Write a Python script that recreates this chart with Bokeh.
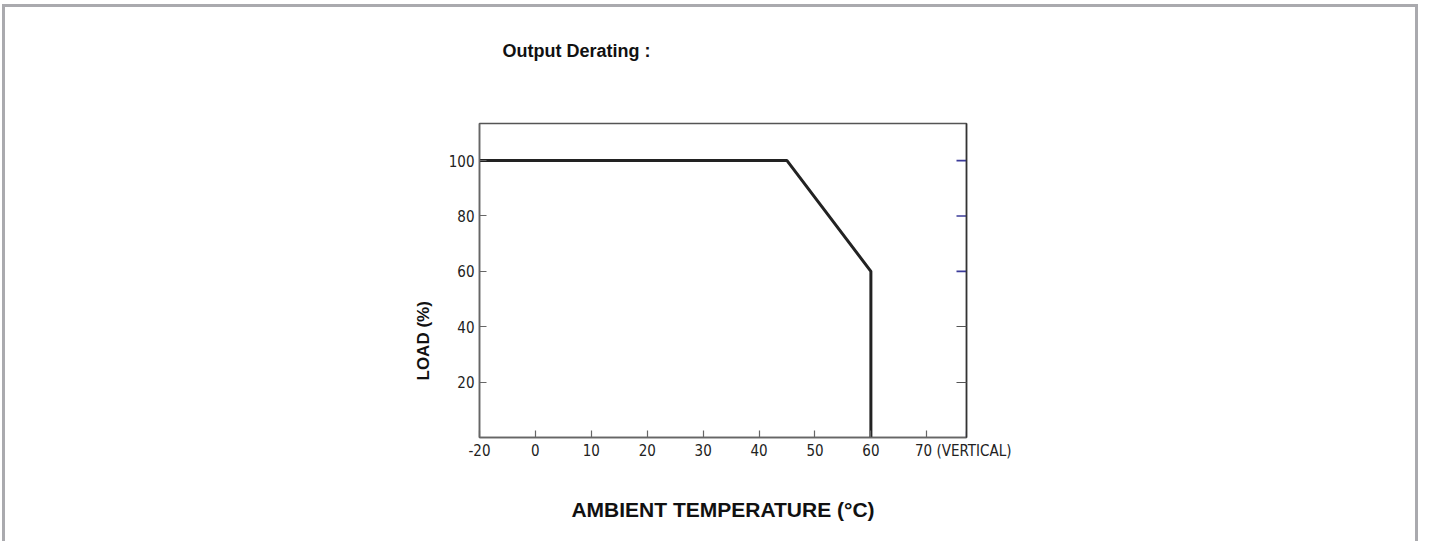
import math
from bokeh.plotting import figure
from bokeh.models import Range1d, LinearAxis, FixedTicker, Title
from bokeh.embed import file_html
from bokeh.resources import INLINE

# ---- data ----
temperature = [-20, 45, 60, 60]          # ambient temperature, deg C
load = [100, 100, 60, 0]                 # load, %
x_tick_values = [-20, 0, 10, 20, 30, 40, 50, 60, 70]
y_tick_values = [20, 40, 60, 80, 100]
blue_right_ticks = [60, 80, 100]
x_limit_right = 77.1                     # end of the frame (in axis units)
y_limit_top = 113.4

title_text = "Output Derating :"
x_label_text = "AMBIENT TEMPERATURE (\u00b0C)"
y_label_text = "LOAD (%)"
note_text = "(VERTICAL)"
note_tick = 70


def axis_pos(t):
    # the chart compresses the -20..0 span to one division
    return t if t >= 0 else t / 2.0


NARROW = "Liberation Sans Narrow, Arial Narrow, DejaVu Sans Condensed, Liberation Sans"
BOLD = "Liberation Sans, Arial"
AXIS_GRAY = "#666666"
NBSP = "\u00a0"

xs = [axis_pos(t) for t in temperature]

p = figure(width=1416, height=537, output_backend="svg", toolbar_location=None,
           x_range=Range1d(axis_pos(x_tick_values[0]), x_limit_right),
           y_range=Range1d(0, y_limit_top),
           min_border_left=474, min_border_right=455,
           min_border_top=116, min_border_bottom=107)
p.grid.visible = False
p.outline_line_color = "#555555"
p.outline_line_width = 1.5
p.background_fill_color = "white"
p.border_fill_color = "white"
p.styles = {"border-top": "3px solid #aaaaae", "border-left": "3px solid #aaaaae",
            "border-right": "3px solid #aaaaae", "margin-left": "2px", "margin-top": "4px"}

# chart title (default title slot, outermost)
p.title.text = title_text
p.title.align = "left"
p.title.offset = 23
p.title.text_font = BOLD
p.title.text_font_style = "bold"
p.title.text_font_size = "18px"
p.title.text_color = "#111111"
p.title.standoff = 0

# spacer between the frame and the chart title
p.add_layout(Title(text=" ", text_font_size="1px", standoff=60), "above")

# bottom axis
labels = {}
for t in x_tick_values:
    lab = str(t)
    if t == note_tick:
        lab = NBSP * 17 + lab + " " + note_text
    labels[int(axis_pos(t))] = lab

xa = p.xaxis[0]
xa.ticker = FixedTicker(ticks=[axis_pos(t) for t in x_tick_values])
xa.major_label_overrides = labels
xa.major_tick_in = 7
xa.major_tick_out = 0
xa.minor_tick_line_color = None
xa.axis_line_color = AXIS_GRAY
xa.axis_line_width = 1.5
xa.major_tick_line_color = AXIS_GRAY
xa.major_tick_line_width = 1.2
xa.major_label_text_font = NARROW
xa.major_label_text_font_size = "15px"
xa.major_label_text_color = "#222222"
xa.major_label_standoff = 4

# left axis
ya = p.yaxis[0]
ya.ticker = FixedTicker(ticks=y_tick_values)
ya.major_tick_in = 7
ya.major_tick_out = 0
ya.minor_tick_line_color = None
ya.axis_line_color = AXIS_GRAY
ya.axis_line_width = 1.5
ya.major_tick_line_color = AXIS_GRAY
ya.major_tick_line_width = 1.2
ya.major_label_text_font = NARROW
ya.major_label_text_font_size = "15px"
ya.major_label_text_color = "#222222"
ya.major_label_standoff = 5

# right axis (ticks only)
ra = LinearAxis(ticker=FixedTicker(ticks=[v for v in y_tick_values if v not in blue_right_ticks]),
                major_tick_in=10, major_tick_out=0,
                minor_tick_line_color=None, axis_line_color="#333333", axis_line_width=1.5,
                major_tick_line_color="#555555", major_label_text_alpha=0)
p.add_layout(ra, "right")
p.ray(x=[x_limit_right] * len(blue_right_ticks), y=blue_right_ticks, length=10,
      length_units="screen", angle=math.pi, line_color="#3b3b99", line_width=1.6)
p.ray(x=[x_limit_right], y=[0], length=6, length_units="screen",
      angle=math.pi / 2, line_color="#3b3b99", line_width=1.2)

# derating curve
p.line(xs, load, line_color="#222222", line_width=3)

# x axis title: spacer below the tick labels, then the title text
p.add_layout(Title(text=" ", text_font_size="1px", standoff=30), "below")
p.add_layout(Title(text=x_label_text, align="center", text_font=BOLD, text_font_style="bold",
                   text_font_size="21px", text_color="#111111", standoff=0), "below")
p.add_layout(Title(text=y_label_text, align="left", offset=57, text_font=BOLD,
                   text_font_style="bold", text_font_size="17px", text_color="#111111",
                   standoff=25), "left")

open("out.html", "w").write(file_html(p, INLINE))
